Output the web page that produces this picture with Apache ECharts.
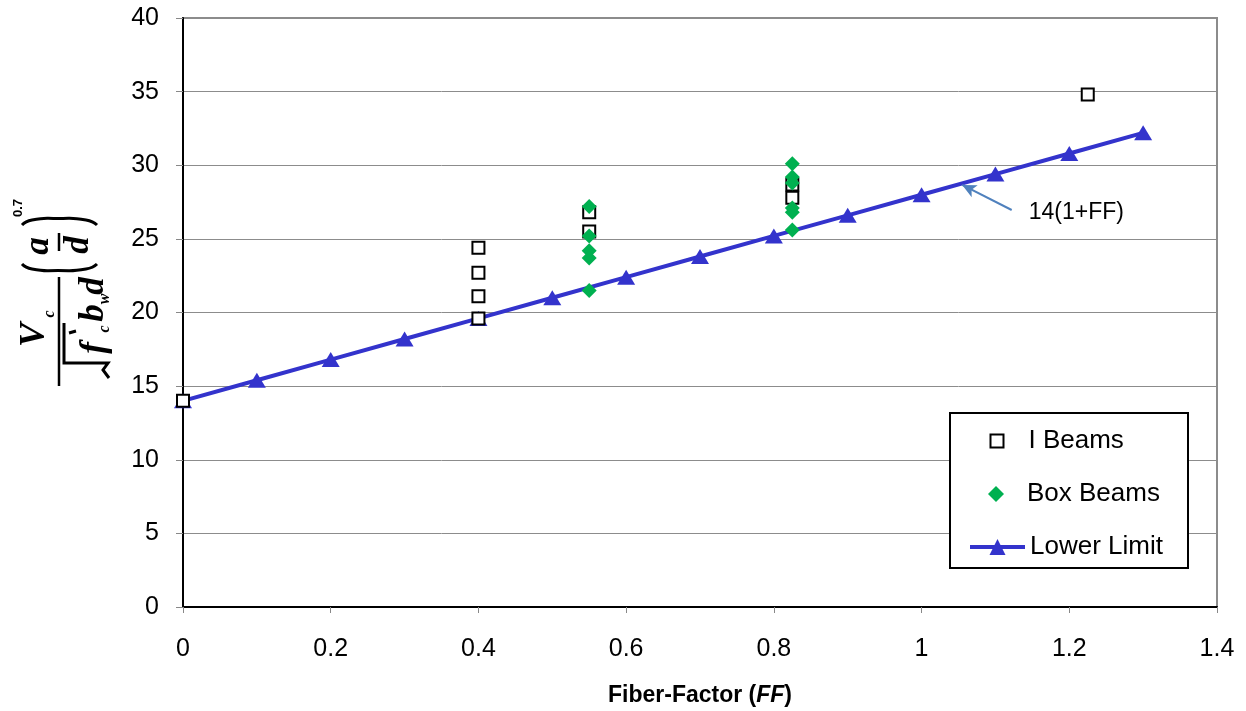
<!DOCTYPE html>
<html>
<head>
<meta charset="utf-8">
<script src="https://cdn.jsdelivr.net/npm/echarts@6/dist/echarts.min.js"></script>
<style>
html,body{margin:0;padding:0;background:#fff;}
#chart{width:1246px;height:711px;}
</style>
</head>
<body>
<div id="chart"></div>
<script>
// ---- data ----
const lowerFF = [0, 0.1, 0.2, 0.3, 0.4, 0.5, 0.6, 0.7, 0.8, 0.9, 1.0, 1.1, 1.2, 1.3];
const lowerV  = [14, 15.4, 16.8, 18.2, 19.6, 21.0, 22.4, 23.8, 25.2, 26.6, 28.0, 29.4, 30.8, 32.2];
const iBeamFF = [0, 0.4, 0.4, 0.4, 0.4, 0.55, 0.55, 0.825, 0.825, 1.225];
const iBeamV  = [14.0, 24.4, 22.7, 21.1, 19.6, 26.8, 25.5, 28.7, 27.8, 34.8];
const boxFF   = [0.55, 0.55, 0.55, 0.55, 0.55, 0.825, 0.825, 0.825, 0.825, 0.825, 0.825];
const boxV    = [27.2, 25.2, 24.2, 23.7, 21.5, 30.1, 29.2, 28.8, 27.1, 26.8, 25.6];
const seriesNames = ['I Beams', 'Box Beams', 'Lower Limit'];
const annotationText = '14(1+FF)';
const arrowFrom = [1.122, 26.96];
const arrowTo = [1.055, 28.66];
const annotationAt = [1.145, 26.8];

const zip = (xs, ys) => xs.map((x, i) => [x, ys[i]]);

const FONT = 'Liberation Sans';
const SERIF = 'Liberation Serif';

// y-axis formula title (rotated group)
function t(x, y, text, size, extra) {
  return Object.assign({
    type: 'text', x: x, y: y,
    style: { text: text, font: 'italic bold ' + size + 'px "' + SERIF + '"', fill: '#000',
             align: 'center', verticalAlign: 'middle' }
  }, extra || {});
}
const formula = {
  type: 'group', x: 58, y: 300, rotation: Math.PI / 2,
  children: [
    { type: 'line', shape: { x1: -86, y1: 1, x2: 23, y2: 1 }, style: { stroke: '#000', lineWidth: 2.5 } },
    t(-35, -23, 'V', 36),
    t(-14, -8, 'c', 16),
    { type: 'polyline', shape: { points: [[-23, 6], [-63, 6], [-63, 50], [-70, 45], [-78, 51]] },
      style: { stroke: '#000', lineWidth: 3, fill: null } },
    { type: 'line', shape: { x1: -33, y1: 11, x2: -31, y2: 18 }, style: { stroke: '#000', lineWidth: 3 } },
    t(-48, 37, 'f', 35),
    t(-29, 47, 'c', 16),
    t(-13, 36, 'b', 35),
    t(1, 47, 'w', 16),
    t(14, 36, 'd', 35),
    { type: 'polyline', shape: { points: [[36, -36], [31, -26], [29.5, 0], [31, 28], [36, 39]], smooth: 0.6 },
      style: { stroke: '#000', lineWidth: 3, fill: null } },
    { type: 'polyline', shape: { points: [[75, -36], [80, -26], [81.5, 0], [80, 28], [75, 39]], smooth: 0.6 },
      style: { stroke: '#000', lineWidth: 3, fill: null } },
    t(54, -19, 'a', 35),
    { type: 'line', shape: { x1: 49, y1: 1, x2: 67, y2: 1 }, style: { stroke: '#000', lineWidth: 2.5 } },
    t(55, 21, 'd', 35),
    { type: 'text', x: 92, y: -40,
      style: { text: '0.7', font: 'bold 13px "' + FONT + '"', fill: '#000', align: 'center', verticalAlign: 'middle' } }
  ]
};

const legendBox = {
  type: 'rect', z: 1, silent: true,
  shape: { x: 950, y: 413, width: 238, height: 155 },
  style: { fill: '#fff', stroke: '#000', lineWidth: 2 }
};

const legendText = (padLeft) => ({ fontFamily: FONT, fontSize: 26, color: '#000', padding: [0, 0, 0, padLeft] });

const chart = echarts.init(document.getElementById('chart'), null, { renderer: 'canvas' });
chart.setOption({
  animation: false,
  backgroundColor: '#fff',
  textStyle: { fontFamily: FONT },
  grid: { left: 183, right: 29, top: 18, bottom: 104, containLabel: false, outerBoundsMode: 'none',
          show: true, borderColor: '#8c8c8c', borderWidth: 2, backgroundColor: 'transparent' },
  xAxis: {
    type: 'value', min: 0, max: 1.4, interval: 0.2,
    name: '{b|Fiber-Factor (}{bi|FF}{b|)}',
    nameLocation: 'middle', nameGap: 77,
    nameTextStyle: {
      rich: {
        b: { fontFamily: FONT, fontWeight: 'bold', fontSize: 23, color: '#000' },
        bi: { fontFamily: FONT, fontWeight: 'bold', fontStyle: 'italic', fontSize: 23, color: '#000' }
      }
    },
    axisLine: { onZero: false, lineStyle: { color: '#000', width: 2 } },
    axisTick: { show: true, inside: false, length: 6, lineStyle: { color: '#888', width: 1 } },
    axisLabel: { fontFamily: FONT, fontSize: 25, color: '#000', margin: 30 },
    splitLine: { show: false }
  },
  yAxis: {
    type: 'value', min: 0, max: 40, interval: 5,
    axisLine: { show: true, onZero: false, lineStyle: { color: '#000', width: 2 } },
    axisTick: { show: true, inside: false, length: 7, lineStyle: { color: '#888', width: 1 } },
    axisLabel: { fontFamily: FONT, fontSize: 25, color: '#000', margin: 24 },
    splitLine: { show: true, lineStyle: { color: '#8c8c8c', width: 1 } }
  },
  legend: [
    { data: [seriesNames[0]], left: 989.5, top: 428, padding: 0, itemWidth: 13, itemHeight: 13,
      textStyle: legendText(20), z: 5 },
    { data: [seriesNames[1]], left: 988, top: 481, padding: 0, itemWidth: 16, itemHeight: 16,
      textStyle: legendText(18), z: 5 },
    { data: [seriesNames[2]], left: 968, top: 534, padding: 0, itemWidth: 55, itemHeight: 20,
      lineStyle: { width: 4 }, textStyle: legendText(0), z: 5 }
  ],
  series: [
    {
      name: 'Lower Limit', type: 'line', data: zip(lowerFF, lowerV),
      symbol: 'triangle', symbolSize: [18, 15], showSymbol: true,
      lineStyle: { color: '#3333cc', width: 4 },
      itemStyle: { color: '#3333cc' },
      z: 2,
      markLine: {
        silent: true, symbol: ['none', 'arrow'], symbolSize: [10, 14],
        lineStyle: { color: '#4f81bd', width: 2, type: 'solid' },
        label: { show: false },
        data: [[{ coord: arrowFrom }, { coord: arrowTo }]]
      },
      markPoint: {
        silent: true,
        data: [{
          coord: annotationAt, symbol: 'circle', symbolSize: 0,
          label: { show: true, position: 'right', distance: 0, formatter: annotationText,
                   fontFamily: FONT, fontSize: 23, color: '#000' }
        }]
      }
    },
    {
      name: 'I Beams', type: 'scatter', data: zip(iBeamFF, iBeamV),
      symbol: 'rect', symbolSize: 12,
      itemStyle: { color: '#fff', borderColor: '#000', borderWidth: 2, opacity: 1 },
      z: 3
    },
    {
      name: 'Box Beams', type: 'scatter', data: zip(boxFF, boxV),
      symbol: 'diamond', symbolSize: 15,
      itemStyle: { color: '#00b050', opacity: 1 },
      z: 4
    }
  ],
  graphic: [formula, legendBox]
});
</script>
</body>
</html>
